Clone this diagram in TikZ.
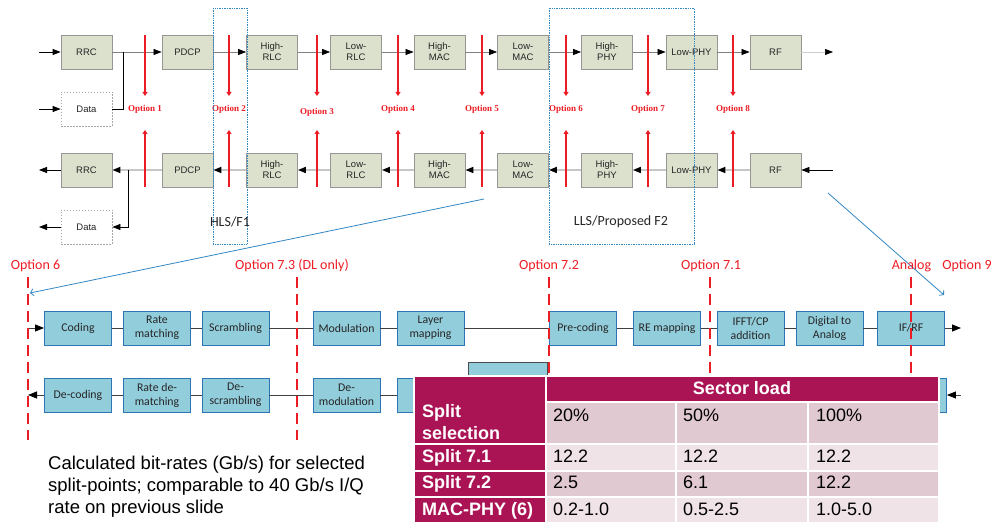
\documentclass[tikz,border=0pt]{standalone}
\usepackage{fontspec}
\setmainfont{Liberation Sans}
\newfontfamily\fArial{Liberation Sans}
\newfontfamily\fCal{Carlito}
\newfontfamily\fSerif{Liberation Serif}
\usetikzlibrary{arrows.meta}

\definecolor{boxgreen}{RGB}{220,225,205}
\definecolor{boxgray}{RGB}{150,150,150}
\definecolor{optred}{RGB}{236,28,36}
\definecolor{cellblue}{RGB}{146,205,220}
\definecolor{edgeblue}{RGB}{46,117,182}
\definecolor{guideblue}{RGB}{50,135,195}
\definecolor{tabmag}{RGB}{170,20,85}
\definecolor{tabdark}{RGB}{224,201,208}
\definecolor{tablight}{RGB}{239,227,232}

\tikzset{
  stackbox/.style={draw=boxgray, fill=boxgreen, line width=0.8pt, minimum width=51pt,
    minimum height=34pt, inner sep=0pt, align=center, text=black!85,
    font=\fArial\fontsize{9.5}{11}\selectfont},
  databox/.style={stackbox, draw=gray!70, fill=white, dash pattern=on 1.5pt off 1.5pt},
  ulline/.style={draw=gray, line width=0.7pt},
  ulflow/.style={ulline, -{Triangle[length=8pt,width=6pt,color=black]}},
  dlline/.style={draw=black!22, line width=1.6pt},
  dlflow/.style={dlline, -{Triangle[length=8pt,width=6pt,color=black]}},
  feed/.style={draw=black, line width=0.8pt},
  feedflow/.style={feed, -{Triangle[length=8pt,width=6pt]}},
  optlabel/.style={text=optred, font=\fSerif\bfseries\fontsize{9}{10}\selectfont, inner sep=0pt},
  optarrow/.style={draw=optred, line width=1.4pt, -{Triangle[length=4pt,width=5pt]}},
  splitframe/.style={draw=guideblue, densely dotted, line width=0.7pt},
  framelabel/.style={font=\fCal\fontsize{14}{16}\selectfont, text=black!85, inner sep=0pt},
  guide/.style={draw=guideblue, line width=0.8pt, -{Straight Barb[length=3pt,width=7pt]}},
  cutline/.style={draw=optred, line width=1.6pt, dash pattern=on 11pt off 6pt},
  cutlabel/.style={text=optred, font=\fCal\fontsize{14}{16}\selectfont, inner sep=0pt},
  procbox/.style={draw=edgeblue, fill=cellblue, line width=0.9pt, minimum width=67pt,
    minimum height=34pt, inner sep=0pt, align=center, text=black!85,
    font=\fCal\fontsize{11.8}{14}\selectfont},
  procline/.style={draw=black!75, line width=0.8pt},
  procflow/.style={procline, -{Triangle[length=9pt,width=7pt,color=black]}},
  headcell/.style={fill=tabmag},
  darkcell/.style={fill=tabdark},
  lightcell/.style={fill=tablight},
  headtext/.style={text=white, font=\fArial\bfseries\fontsize{18}{22}\selectfont, inner sep=0pt},
  celltext/.style={text=black, font=\fArial\fontsize{18}{22}\selectfont, inner sep=0pt, anchor=base west},
  notetext/.style={text=black, font=\fArial\fontsize{18.5}{22}\selectfont, inner sep=0pt,
    align=left, anchor=base west},
}

\begin{document}
\begin{tikzpicture}[x=1pt,y=-1pt]
\useasboundingbox (0,0) rectangle (997,529);

% ---------- protocol stack, uplink direction ----------
\node[stackbox] (rrcU)  at (86.5,52)  {RRC};
\node[stackbox] (pdcpU) at (187.5,52) {PDCP};
\node[stackbox] (hrlcU) at (272,52)   {High-\\RLC};
\node[stackbox] (lrlcU) at (356,52)   {Low-\\RLC};
\node[stackbox] (hmacU) at (439.5,52) {High-\\MAC};
\node[stackbox] (lmacU) at (523,52)   {Low-\\MAC};
\node[stackbox] (hphyU) at (607,52)   {High-\\PHY};
\node[stackbox] (lphyU) at (691.5,52) {Low-PHY};
\node[stackbox] (rfU)   at (775.5,52) {RF};
\node[databox]  (dataU) at (86.5,109) {Data};

\coordinate (inU) at (39,52);
\coordinate (inData) at (39,109);
\coordinate (joinU) at (123,52);
\coordinate (outU) at (833,52);

\draw[feedflow] (inU) -- (rrcU);
\draw[feedflow] (inData) -- (dataU);
\draw[ulflow] (rrcU) -- (pdcpU);
\draw[feed] (dataU.east) -| (joinU);
\draw[ulflow] (pdcpU) -- (hrlcU);
\draw[ulflow] (hrlcU) -- (lrlcU);
\draw[ulflow] (lrlcU) -- (hmacU);
\draw[ulflow] (hmacU) -- (lmacU);
\draw[ulflow] (lmacU) -- (hphyU);
\draw[ulflow] (hphyU) -- (lphyU);
\draw[ulflow] (lphyU) -- (rfU);
\draw[ulflow, draw=black!20] (rfU) -- (outU);

% ---------- protocol stack, downlink direction ----------
\node[stackbox] (rrcD)  at (86.5,170)  {RRC};
\node[stackbox] (pdcpD) at (187.5,170) {PDCP};
\node[stackbox] (hrlcD) at (272,170)   {High-\\RLC};
\node[stackbox] (lrlcD) at (356,170)   {Low-\\RLC};
\node[stackbox] (hmacD) at (439.5,170) {High-\\MAC};
\node[stackbox] (lmacD) at (523,170)   {Low-\\MAC};
\node[stackbox] (hphyD) at (607,170)   {High-\\PHY};
\node[stackbox] (lphyD) at (691.5,170) {Low-PHY};
\node[stackbox] (rfD)   at (775.5,170) {RF};
\node[databox]  (dataD) at (86.5,227)  {Data};

\coordinate (inD) at (833,170);
\coordinate (outD) at (39,170);
\coordinate (outData) at (39,227);
\coordinate (tapD) at (128,170);

\draw[feedflow] (inD) -- (rfD);
\draw[dlflow] (rfD) -- (lphyD);
\draw[dlflow] (lphyD) -- (hphyD);
\draw[dlflow] (hphyD) -- (lmacD);
\draw[dlflow] (lmacD) -- (hmacD);
\draw[dlflow] (hmacD) -- (lrlcD);
\draw[dlflow] (lrlcD) -- (hrlcD);
\draw[dlflow] (hrlcD) -- (pdcpD);
\draw[dlflow] (pdcpD) -- (rrcD);
\draw[feedflow] (tapD) |- (dataD);
\draw[feedflow] (rrcD) -- (outD);
\draw[feedflow] (dataD) -- (outData);

% ---------- split options 1..8 ----------
\foreach \i/\x/\ly in {1/145/109, 2/229/109, 3/317/112, 4/398/109,
                       5/482/109, 6/566/109, 7/648/109, 8/733/109} {
  \node[optlabel] (opt\i) at (\x,\ly) {Option \i};
  \coordinate (optTopA\i) at (\x,35);
  \coordinate (optTopB\i) at (\x,96);
  \coordinate (optBotA\i) at (\x,187);
  \coordinate (optBotB\i) at (\x,130);
  \draw[optarrow] (optTopA\i) -- (optTopB\i);
  \draw[optarrow] (optBotA\i) -- (optBotB\i);
}

% ---------- HLS / LLS frames ----------
\draw[splitframe] (213,8) rectangle (247,244);
\node[framelabel] (hls) at (230,222) {HLS/F1};
\draw[splitframe] (549,8) rectangle (694,244);
\node[framelabel] (lls) at (621,222) {LLS/Proposed F2};

\coordinate (zoomA1) at (484,199);
\coordinate (zoomA2) at (30,293);
\coordinate (zoomB1) at (828,193);
\coordinate (zoomB2) at (944,295);
\draw[guide] (zoomA1) -- (zoomA2);
\draw[guide] (zoomB1) -- (zoomB2);

% ---------- PHY processing chain, transmit ----------
\node[procbox] (coding) at (78,328)    {Coding};
\node[procbox] (ratem)  at (157,328)   {Rate\\matching};
\node[procbox] (scram)  at (235.5,328) {Scrambling};
\node[procbox] (modul)  at (346.5,328) {Modulation};
\node[procbox] (laymap) at (430.5,328) {Layer\\mapping};
\node[procbox] (precod) at (583,328)   {Pre-coding};
\node[procbox] (remap)  at (667,328)   {RE mapping};
\node[procbox] (ifft)   at (750.5,328) {IFFT/CP\\addition};
\node[procbox] (dac)    at (829.5,328) {Digital to\\Analog};
\node[procbox] (ifrf)   at (911,328)   {IF/RF};

\coordinate (txin) at (28,328);
\coordinate (txout) at (961,328);
\draw[procflow] (txin) -- (coding);
\draw[procline] (coding) -- (ratem);
\draw[procline] (ratem) -- (scram);
\draw[procline] (scram) -- (modul);
\draw[procline] (modul) -- (laymap);
\draw[procline] (laymap) -- (precod);
\draw[procline] (precod) -- (remap);
\draw[procline] (remap) -- (ifft);
\draw[procline] (ifft) -- (dac);
\draw[procline] (dac) -- (ifrf);
\draw[procflow] (ifrf) -- (txout);

% ---------- PHY processing chain, receive ----------
\node[procbox] (decod)  at (78,395)    {De-coding};
\node[procbox] (rdem)   at (157,395)   {Rate de-\\matching};
\node[procbox] (descr)  at (235.5,395) {De-\\scrambling};
\node[procbox] (demod)  at (346.5,395) {De-\\modulation};
\node[procbox] (laydem) at (430.5,395) {};
\node[procbox, draw=black!70, minimum width=79pt, minimum height=66pt] (hidblk) at (507.5,395) {};
\node[procbox] (ifrfD)  at (913,395)   {};

\coordinate (rxout) at (28,395);
\coordinate (rxin) at (961,395);
\draw[procflow] (decod) -- (rxout);
\draw[procline] (rdem) -- (decod);
\draw[procline] (descr) -- (rdem);
\draw[procline] (demod) -- (descr);
\draw[procline] (laydem) -- (demod);
\draw[procflow] (rxin) -- (ifrfD);

% ---------- split points on the PHY chain ----------
\foreach \n/\x in {c6/28, c73/297, c72/549, c71/710, can/911} {
  \coordinate (\n top) at (\x,277);
  \coordinate (\n bot) at (\x,440);
  \draw[cutline] (\n top) -- (\n bot);
}
\node[cutlabel] (lab6)  at (35.5,266) {Option 6};
\node[cutlabel] (lab73) at (292,266)  {Option 7.3 (DL only)};
\node[cutlabel] (lab72) at (549,266)  {Option 7.2};
\node[cutlabel] (lab71) at (711,266)  {Option 7.1};
\node[cutlabel] (labAn) at (911.5,266) {Analog};
\node[cutlabel] (lab9)  at (967,266)  {Option 9};

% ---------- bit-rate table ----------
\fill[white] (413,375) rectangle (940,524);
\fill[headcell] (415,377) rectangle (545,443);
\fill[headcell] (547,377) rectangle (938,401);
\fill[darkcell] (547,403) rectangle (675,443);
\fill[darkcell] (677,403) rectangle (807,443);
\fill[darkcell] (809,403) rectangle (938,443);
\fill[headcell] (415,445) rectangle (545,470);
\fill[lightcell] (547,445) rectangle (675,470);
\fill[lightcell] (677,445) rectangle (807,470);
\fill[lightcell] (809,445) rectangle (938,470);
\fill[headcell] (415,472) rectangle (545,496);
\fill[darkcell] (547,472) rectangle (675,496);
\fill[darkcell] (677,472) rectangle (807,496);
\fill[darkcell] (809,472) rectangle (938,496);
\fill[headcell] (415,498) rectangle (545,522);
\fill[lightcell] (547,498) rectangle (675,522);
\fill[lightcell] (677,498) rectangle (807,522);
\fill[lightcell] (809,498) rectangle (938,522);

\node[headtext, anchor=base] (sector) at (742,394.5) {Sector load};
% a multi-line node's base anchor sits on its last line
\node[headtext, anchor=base west, align=left] (splitsel) at (422,439.5) {Split\\selection};
\node[headtext, anchor=base west] (s71) at (422,462.5) {Split 7.1};
\node[headtext, anchor=base west] (s72) at (422,488.5) {Split 7.2};
\node[headtext, anchor=base west] (smp) at (422,515.5) {MAC-PHY (6)};

\node[celltext] (l20)  at (553,421.5) {20\%};
\node[celltext] (l50)  at (683,421.5) {50\%};
\node[celltext] (l100) at (816,421.5) {100\%};
\node[celltext] (a1) at (553,462.5) {12.2};
\node[celltext] (a2) at (683,462.5) {12.2};
\node[celltext] (a3) at (816,462.5) {12.2};
\node[celltext] (b1) at (553,488.5) {2.5};
\node[celltext] (b2) at (683,488.5) {6.1};
\node[celltext] (b3) at (816,488.5) {12.2};
\node[celltext] (c1) at (553,515.5) {0.2-1.0};
\node[celltext] (c2) at (683,515.5) {0.5-2.5};
\node[celltext] (c3) at (816,515.5) {1.0-5.0};

% ---------- note ----------
\node[notetext] (note) at (48,513.5) {Calculated bit-rates (Gb/s) for selected\\split-points; comparable to 40 Gb/s I/Q\\rate on previous slide};

\end{tikzpicture}
\end{document}
